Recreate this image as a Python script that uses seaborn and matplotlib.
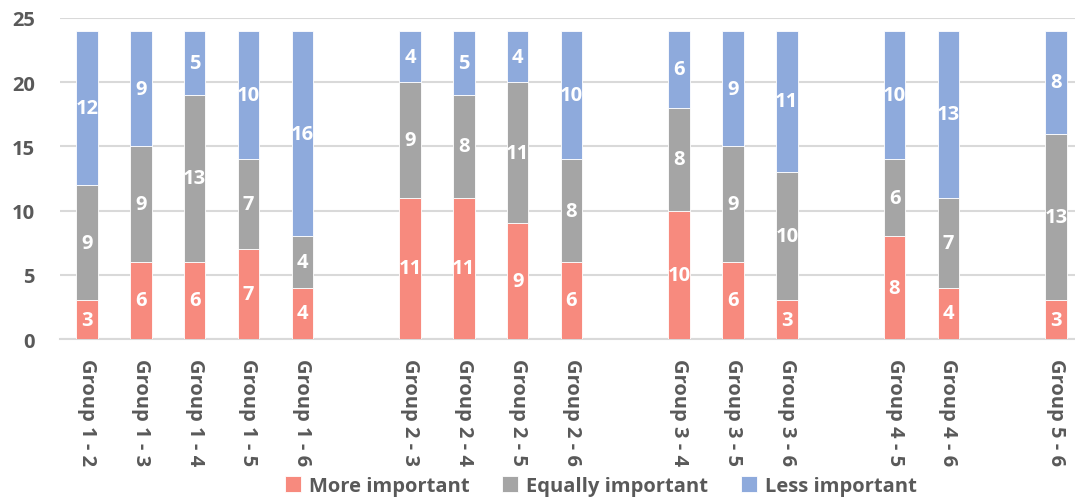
import matplotlib
matplotlib.use("Agg")
import matplotlib.pyplot as plt
import seaborn as sns
import pandas as pd

# Pairwise group comparisons (blank slots separate the first group of each pair)
categories = [
    "Group 1 - 2", "Group 1 - 3", "Group 1 - 4", "Group 1 - 5", "Group 1 - 6",
    "Group 2 - 3", "Group 2 - 4", "Group 2 - 5", "Group 2 - 6",
    "Group 3 - 4", "Group 3 - 5", "Group 3 - 6",
    "Group 4 - 5", "Group 4 - 6",
    "Group 5 - 6",
]
more_important = [3, 6, 6, 7, 4, 11, 11, 9, 6, 10, 6, 3, 8, 4, 3]
equally_important = [9, 9, 13, 7, 4, 9, 8, 11, 8, 8, 9, 10, 6, 7, 13]
less_important = [12, 9, 5, 10, 16, 4, 5, 4, 10, 6, 9, 11, 10, 13, 8]

series_names = ["More important", "Equally important", "Less important"]
series_colors = ["#F78A7E", "#A5A5A5", "#8EAADC"]

# Axis order with spacer slots between comparison blocks
order = (categories[0:5] + [" "] + categories[5:9] + ["  "] + categories[9:12]
         + ["   "] + categories[12:14] + ["    "] + categories[14:15])

df = pd.DataFrame({
    "pair": categories,
    "more": more_important,
    "equal": equally_important,
    "less": less_important,
})

sns.set_theme(style="white")
plt.rcParams["font.family"] = ["Open Sans", "DejaVu Sans"]

text_color = "#595959"
grid_color = "#D9D9D9"
fs = 14.5

fig = plt.figure(figsize=(10.75, 5.02), dpi=100)
ax = fig.add_axes([60 / 1075, (502 - 340) / 502, (1083 - 60) / 1075, (340 - 19) / 502])

bottoms = [0] * len(categories)
for col, name, color in zip(["more", "equal", "less"], series_names, series_colors):
    sns.barplot(data=df, x="pair", y=col, order=order, color=color, saturation=1,
                width=0.4, bottom=bottoms, label=name, ax=ax,
                edgecolor="white", linewidth=0.6, zorder=3)
    bottoms = [b + v for b, v in zip(bottoms, df[col])]

if ax.get_legend() is not None:
    ax.get_legend().remove()

for container in ax.containers:
    ax.bar_label(container, label_type="center", color="white",
                 fontsize=fs, fontweight="bold", padding=0)

ax.set_ylim(0, 25)
ax.set_xlim(-0.5, len(order) - 0.5)
ax.set_yticks(range(0, 26, 5))
ax.set_xlabel("")
ax.set_ylabel("")

ax.yaxis.grid(True, color=grid_color, linewidth=1.5, zorder=0)
ax.set_axisbelow(True)
for side in ["left", "right", "top"]:
    ax.spines[side].set_visible(False)
ax.spines["bottom"].set_color(grid_color)
ax.spines["bottom"].set_linewidth(1.5)

ax.tick_params(axis="y", length=0, pad=18, labelsize=fs, labelcolor=text_color)
ax.tick_params(axis="x", length=0, pad=14, labelsize=fs, labelcolor=text_color)
for lbl in ax.get_yticklabels():
    lbl.set_fontweight("bold")
for lbl in ax.get_xticklabels():
    lbl.set_rotation(270)
    lbl.set_fontweight("bold")
    lbl.set_va("top")
    lbl.set_ha("center")

handles = [c.patches[0] for c in ax.containers]
leg = fig.legend(handles, series_names, loc="center", bbox_to_anchor=(601 / 1075, 1 - 487 / 502),
                 ncol=3, frameon=False, handlelength=0.8, handleheight=0.8,
                 handletextpad=0.4, columnspacing=1.6,
                 prop={"size": fs, "weight": "bold"})
for t in leg.get_texts():
    t.set_color(text_color)

fig.savefig("out.png", dpi=100)
